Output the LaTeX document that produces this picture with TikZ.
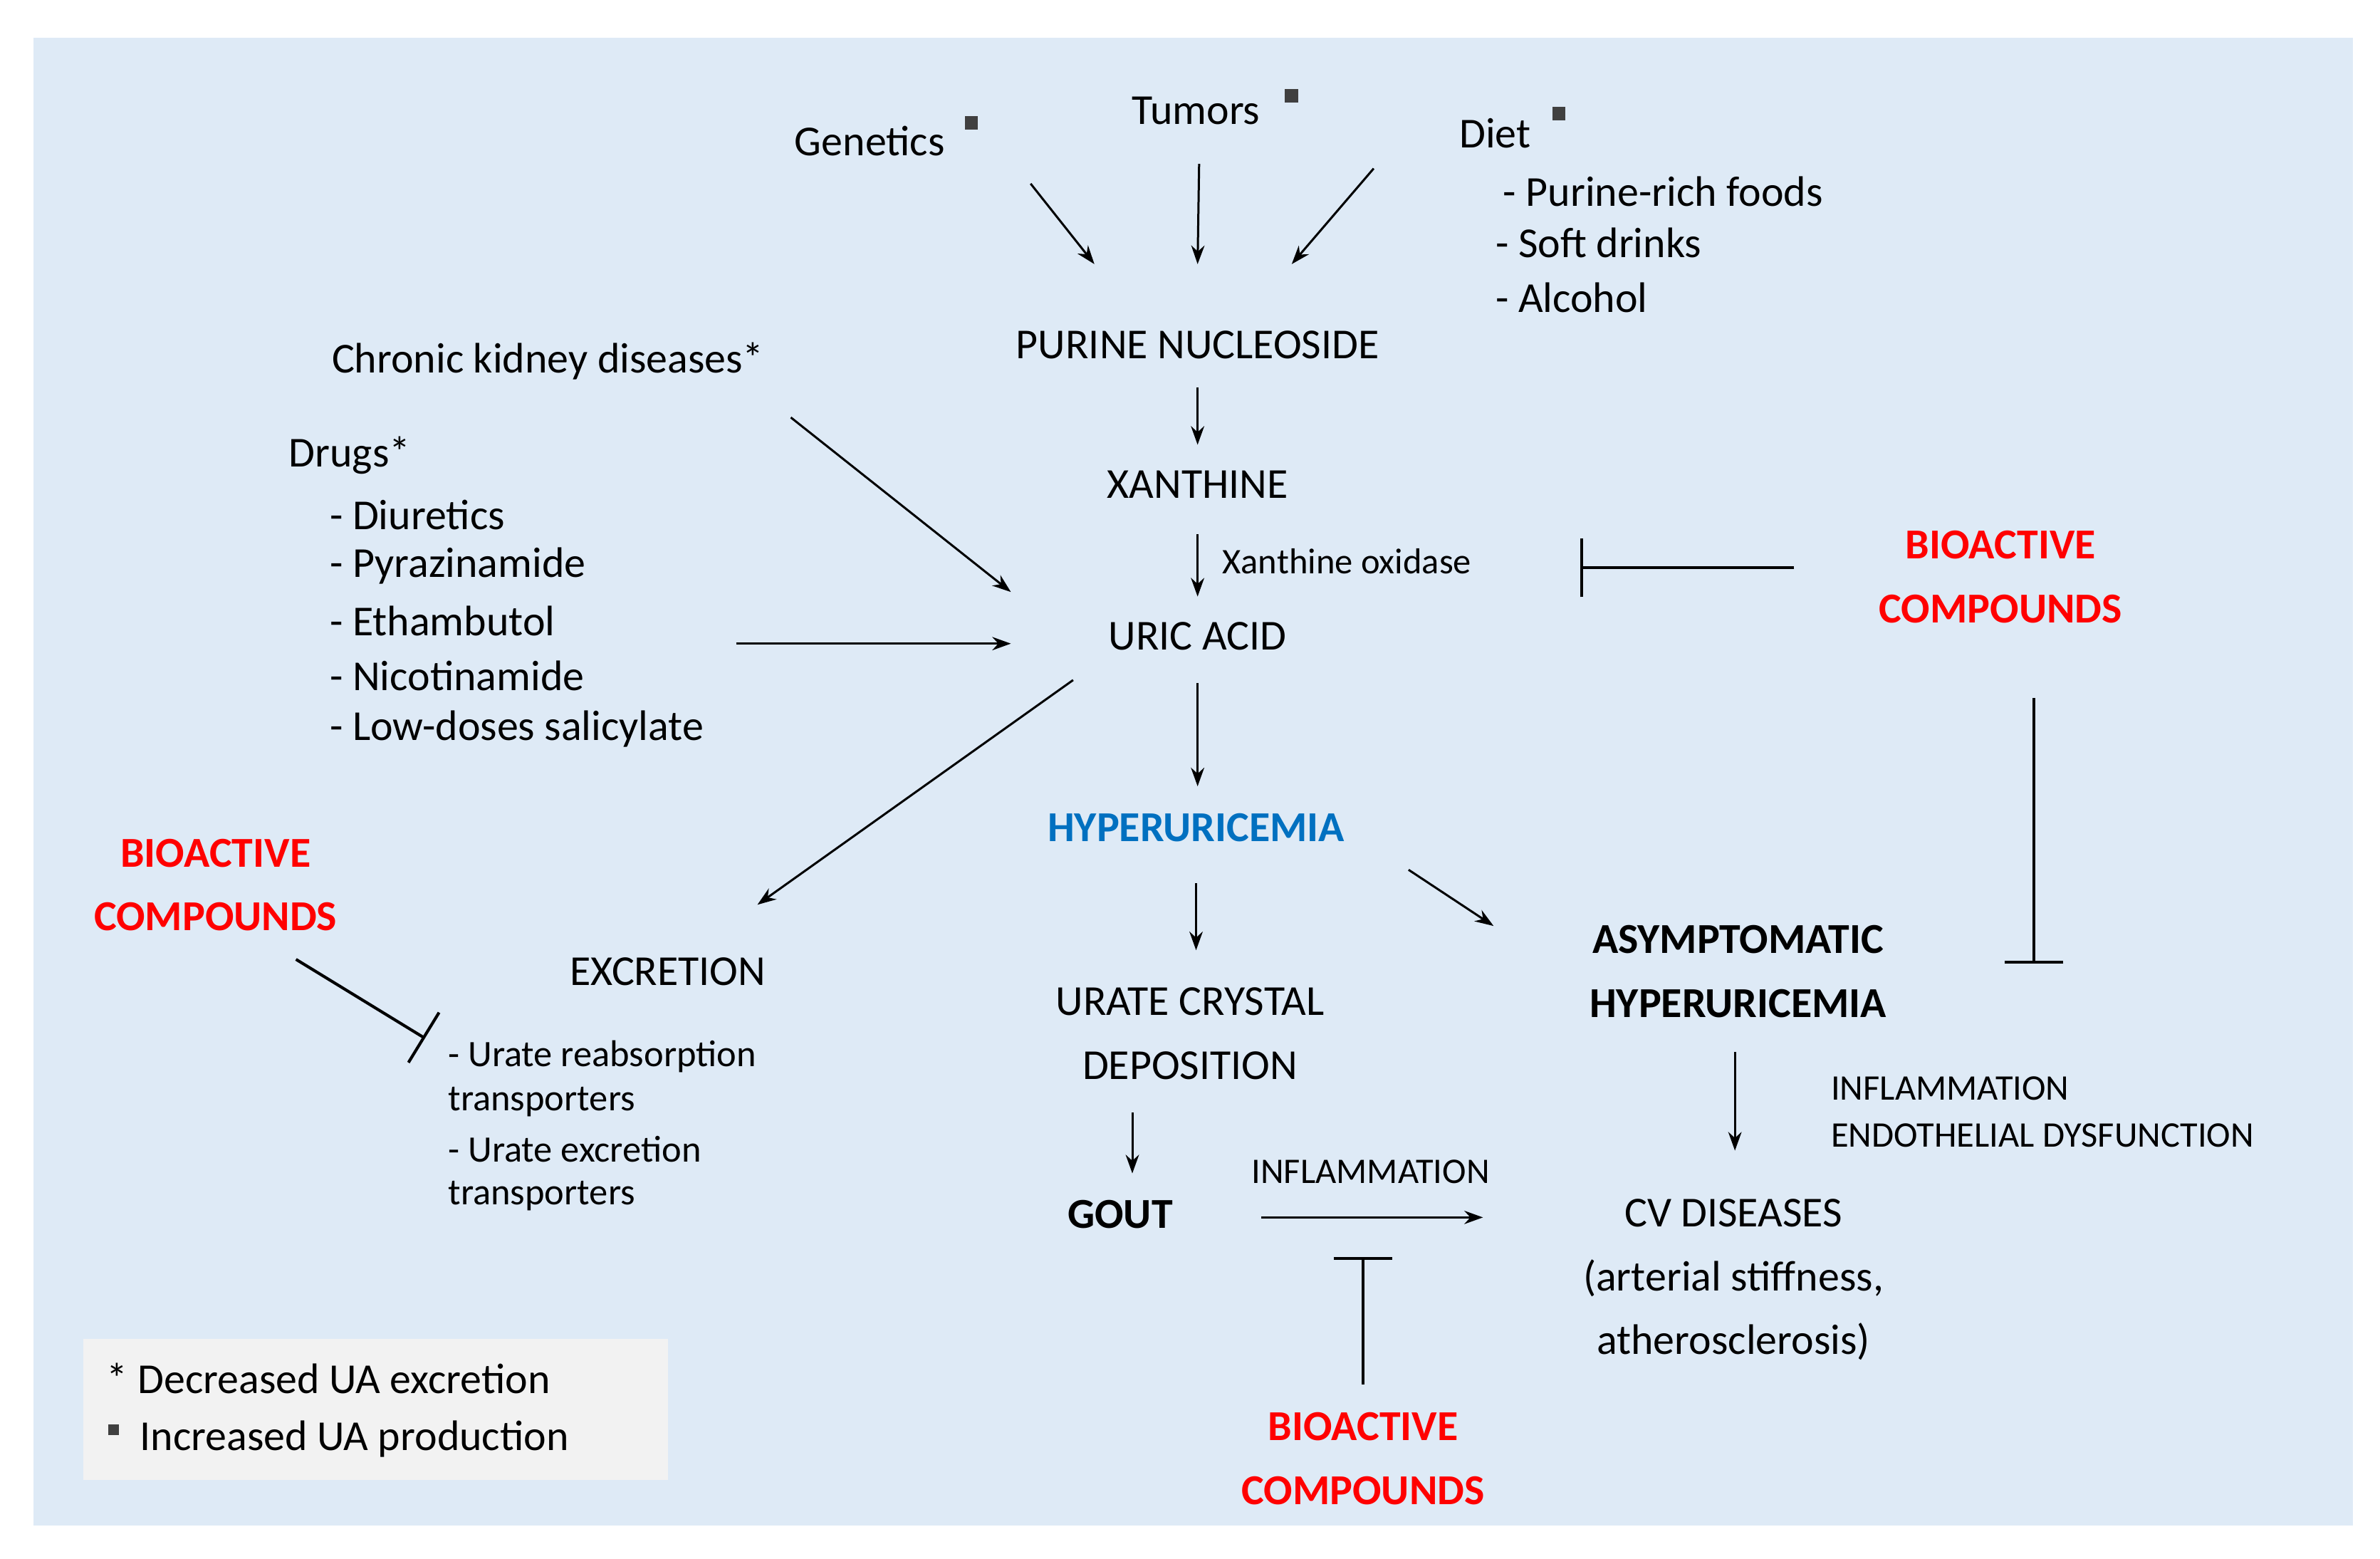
\documentclass[tikz,border=0pt]{standalone}
\usepackage{fontspec}
\setmainfont{Carlito}
\usetikzlibrary{arrows.meta}
\definecolor{bgblue}{HTML}{DEEAF6}
\definecolor{leg}{HTML}{F2F2F2}
\definecolor{hblue}{HTML}{0070C0}
\begin{document}
\begin{tikzpicture}[x=0.02cm,y=-0.02cm,
  t/.style={inner sep=0pt,font=\fontsize{16}{19}\selectfont},
  s/.style={inner sep=0pt,font=\fontsize{13.5}{16}\selectfont},
  bio/.style={inner sep=0pt,font=\fontsize{16}{24}\selectfont\bfseries,text=red,align=center},
  arr/.style={line width=0.8pt,-{Stealth[length=7pt,width=5pt]}},
  inh/.style={line width=1.1pt,-{Bar[width=22pt]}},
  sq/.style={fill=black!75,minimum size=5pt,inner sep=0pt}]
\useasboundingbox (0,0) rectangle (1568,1027);
\fill[bgblue] (22,25) rectangle (1550,1005);
\fill[leg] (55,882) rectangle (440,975);
% top causes
\node[t] (gen) at (573,93) {Genetics};
\node[sq] (gsq) at (640,81) {};
\node[t] (tum) at (788,73) {Tumors};
\node[sq] (tsq) at (851,63) {};
\node[t] (diet) at (985,88) {Diet};
\node[sq] (dsq) at (1027,75) {};
\node[t,anchor=west] (d1) at (990,126) {- Purine-rich foods};
\node[t,anchor=west] (d2) at (985,160) {- Soft drinks};
\node[t,anchor=west] (d3) at (985,196) {- Alcohol};
% main chain
\node[t] (pn) at (789,227) {PURINE NUCLEOSIDE};
\node[t] (xa) at (789,319) {XANTHINE};
\node[s,anchor=west] (xo) at (805,370) {Xanthine oxidase};
\node[t] (ua) at (789,419) {URIC ACID};
\node[t,font=\fontsize{16}{19}\selectfont\bfseries,text=hblue] (hy) at (788,545) {HYPERURICEMIA};
% left
\node[t] (ckd) at (361,238) {Chronic kidney diseases*};
\node[t,anchor=west] (dr) at (190,300) {Drugs*};
\node[t,anchor=west] (dr1) at (217,339) {- Diuretics};
\node[t,anchor=west] (dr2) at (217,373) {- Pyrazinamide};
\node[t,anchor=west] (dr3) at (217,409) {- Ethambutol};
\node[t,anchor=west] (dr4) at (217,445) {- Nicotinamide};
\node[t,anchor=west] (dr5) at (217,480) {- Low-doses salicylate};
\node[bio] (bioR) at (1318,380) {BIOACTIVE\\COMPOUNDS};
\node[bio] (bioL) at (142,583) {BIOACTIVE\\COMPOUNDS};
\node[bio] (bioB) at (898,961) {BIOACTIVE\\COMPOUNDS};
\node[t] (ex) at (440,640) {EXCRETION};
\node[s,anchor=west,font=\fontsize{14}{16}\selectfont] (e1) at (295,696) {- Urate reabsorption};
\node[s,anchor=west,font=\fontsize{14}{16}\selectfont] (e2) at (295,726) {transporters};
\node[s,anchor=west,font=\fontsize{14}{16}\selectfont] (e3) at (295,757) {- Urate excretion};
\node[s,anchor=west,font=\fontsize{14}{16}\selectfont] (e4) at (295,788) {transporters};
\node[t,align=center,font=\fontsize{16}{24}\selectfont] (uc) at (784,681) {URATE CRYSTAL\\DEPOSITION};
\node[t,align=center,font=\fontsize{16}{24}\selectfont\bfseries] (asy) at (1145,640) {ASYMPTOMATIC\\HYPERURICEMIA};
\node[s,anchor=west] (i1) at (1206,717) {INFLAMMATION};
\node[s,anchor=west] (i2) at (1206,748) {ENDOTHELIAL DYSFUNCTION};
\node[t,font=\fontsize{16}{19}\selectfont\bfseries] (gout) at (738,800) {GOUT};
\node[s] (infl) at (903,772) {INFLAMMATION};
\node[t,align=center,font=\fontsize{16}{24}\selectfont] (cv) at (1142,843) {CV DISEASES\\(arterial stiffness,\\atherosclerosis)};
% legend
\node[t,anchor=west] (l1) at (70,908) {* Decreased UA excretion};
\node[t,anchor=west] (l2) at (92,948) {Increased UA production};
\node[sq,minimum size=4pt] (lsq) at (75,942) {};
% coordinates
\foreach \n/\x/\y in {a1/679/121,a2/721/174,b1/790/108,b2/789/174,c1/905/111,c2/851/174,
 p1/789/255,p2/789/293,x1/789/352,x2/789/393,k1/521/275,k2/666/390,g1/485/424,g2/666/424,
 u1/789/450,u2/789/518,v1/707/448,v2/499/596,h1/788/582,h2/788/626,j1/928/573,j2/984/610,
 q1/746/733,q2/746/773,m1/1143/693,m2/1143/758,n1/831/802,n2/977/802,
 r1/1182/374,r2/1041/374,s1/1340/460,s2/1340/635,w1/195/632,w2/280/684,z1/898/912,z2/898/828}
 {\coordinate (\n) at (\x,\y);}
\foreach \p in {a,b,c,p,x,k,g,u,v,h,j,q,m,n} {\draw[arr] (\p1) -- (\p2);}
\foreach \p in {r,s,w,z} {\draw[inh] (\p1) -- (\p2);}
\end{tikzpicture}
\end{document}
